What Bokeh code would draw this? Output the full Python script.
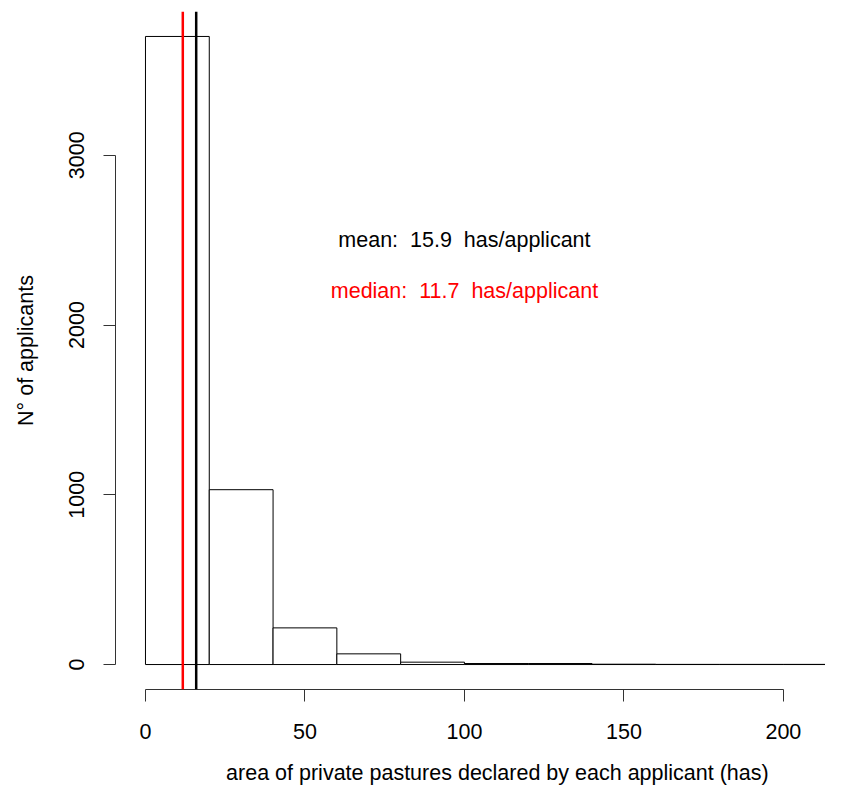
from bokeh.plotting import figure
from bokeh.models import Span, Range1d, FixedTicker
from bokeh.core.properties import value
from bokeh.embed import file_html
from bokeh.resources import INLINE

# Histogram data (bins of width 20 ha)
bin_left = [0, 20, 40, 60, 80, 100, 120, 140, 160, 180, 200, 220]
bin_right = [20, 40, 60, 80, 100, 120, 140, 160, 180, 200, 220, 240]
counts = [3700, 1030, 216, 63, 14, 6, 6, 2, 1, 1, 1, 1]

mean_val = 15.9
median_val = 11.7
label_x = [100, 100]
label_y = [2500, 2200]
labels = ["mean: \u00a015.9 \u00a0has/applicant", "median: \u00a011.7 \u00a0has/applicant"]
label_colors = ["black", "red"]

x_ticks = [0, 50, 100, 150, 200]
y_ticks = [0, 1000, 2000, 3000]
x_label = "area of private pastures declared by each applicant (has)"
y_label = "N° of applicants"

FONT = "Liberation Sans"
FS = "21.5px"

p = figure(width=825, height=787, output_backend="svg", toolbar_location=None,
           x_range=Range1d(-9.40, 213.2), y_range=Range1d(-147, 3847),
           min_border_left=115, min_border_right=0, min_border_top=11,
           min_border_bottom=97)
p.outline_line_color = None
p.grid.visible = False
p.background_fill_color = "white"
p.border_fill_color = "white"

p.quad(left=bin_left, right=bin_right, bottom=0, top=counts,
       fill_color="white", line_color="black", line_width=1)

p.add_layout(Span(location=median_val, dimension="height", line_color="red", line_width=2.5))
p.add_layout(Span(location=mean_val, dimension="height", line_color="black", line_width=2.5))

p.text(x=label_x, y=label_y, text=labels, text_color=label_colors,
       text_font=value(FONT), text_font_size=FS, text_align="center",
       text_baseline="middle")

for ax in (p.xaxis[0], p.yaxis[0]):
    ax.axis_line_color = "#333333"
    ax.major_tick_line_color = "#333333"
    ax.minor_tick_line_color = None
    ax.major_tick_in = 0
    ax.major_tick_out = 12
    ax.major_label_text_font = FONT
    ax.major_label_text_font_size = FS
    ax.major_label_text_color = "black"
    ax.axis_label_text_font = FONT
    ax.axis_label_text_font_size = FS
    ax.axis_label_text_font_style = "normal"
    ax.axis_label_text_color = "black"

p.xaxis.ticker = FixedTicker(ticks=x_ticks)
p.xaxis.bounds = (0, 200)
p.xaxis.major_label_standoff = 22
# leading no-break spaces shift the centred label right, as in the original
p.xaxis.axis_label = "\u00a0" * 9 + x_label
p.xaxis.axis_label_standoff = 19

p.yaxis.ticker = FixedTicker(ticks=y_ticks)
p.yaxis.bounds = (0, 3000)
p.yaxis.axis_label = y_label
p.yaxis.major_label_orientation = "vertical"
p.yaxis.major_label_standoff = 19
p.yaxis.axis_label_standoff = 29

open("out.html", "w").write(file_html(p, INLINE))
